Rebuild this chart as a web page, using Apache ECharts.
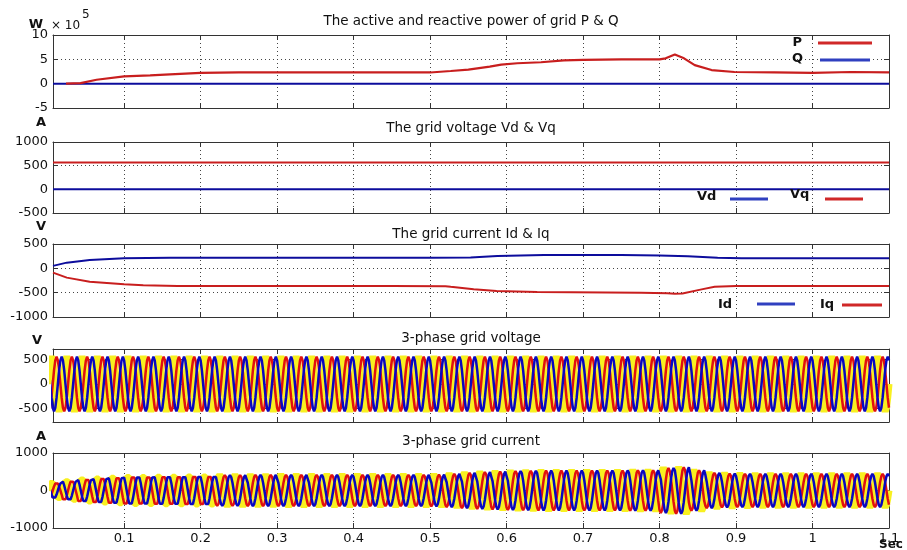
<!DOCTYPE html>
<html><head><meta charset="utf-8">
<script src="https://cdn.jsdelivr.net/npm/echarts@6/dist/echarts.min.js"></script>
<style>html,body{margin:0;padding:0;background:#fff}#c{width:907px;height:550px}</style>
</head><body><div id="c"></div><script>
// ---------- data ----------
const xTicks = [0.1, 0.2, 0.3, 0.4, 0.5, 0.6, 0.7, 0.8, 0.9, 1, 1.1];
const xTickLabels = ['0.1', '0.2', '0.3', '0.4', '0.5', '0.6', '0.7', '0.8', '0.9', '1', '1.1'];
const xMin = 0.007, xMax = 1.1;

// P in units of 10^5 W
const pTime  = [0.024, 0.043, 0.064, 0.1, 0.134, 0.16, 0.2, 0.25, 0.33, 0.4, 0.45, 0.5, 0.527, 0.55, 0.578, 0.593, 0.614, 0.645, 0.675, 0.7, 0.75, 0.8, 0.808, 0.82, 0.832, 0.846, 0.868, 0.898, 0.95, 1.0, 1.05, 1.1];
const pValue = [0, 0.1, 0.8, 1.5, 1.7, 1.9, 2.2, 2.3, 2.35, 2.3, 2.3, 2.3, 2.6, 2.9, 3.5, 3.9, 4.2, 4.4, 4.8, 4.9, 5.0, 5.0, 5.2, 6.0, 5.2, 3.8, 2.8, 2.4, 2.3, 2.2, 2.4, 2.3];
const qTime  = [0.007, 1.1];
const qValue = [0, 0];

const vdTime  = [0.007, 1.1];
const vdValue = [0, 0];
const vqTime  = [0.007, 1.1];
const vqValue = [565, 565];

const idTime  = [0.007, 0.025, 0.055, 0.1, 0.16, 0.3, 0.5, 0.553, 0.588, 0.649, 0.75, 0.8, 0.837, 0.876, 0.907, 1.0, 1.1];
const idValue = [50, 117, 171, 206, 220, 218, 220, 222, 254, 272, 272, 262, 247, 220, 206, 205, 205];
const iqTime  = [0.007, 0.025, 0.055, 0.1, 0.125, 0.17, 0.45, 0.52, 0.527, 0.557, 0.587, 0.64, 0.776, 0.81, 0.82, 0.83, 0.855, 0.872, 0.9, 1.0, 1.1];
const iqValue = [-88, -191, -274, -329, -350, -364, -364, -366, -380, -432, -466, -486, -500, -510, -520, -515, -432, -380, -364, -364, -364];

// 3-phase waveforms: 50 Hz, one normalized cycle (12 samples) and per-cycle peak amplitude
const gridFreq = 50;
const waveShape = [0, 0.5, 0.87, 1, 0.87, 0.5, 0, -0.5, -0.87, -1, -0.87, -0.5];
const voltageAmp = [560,560,560,560,560,560,560,560,560,560,560,560,560,560,560,560,560,560,560,560,560,560,560,560,560,560,560,560,560,560,560,560,560,560,560,560,560,560,560,560,560,560,560,560,560,560,560,560,560,560,560,560,560,560,560];
const currentAmp = [215,270,320,350,375,395,400,405,405,410,410,412,412,413,413,414,414,415,415,415,415,415,415,415,415,420,440,470,490,505,520,525,530,530,530,535,535,535,540,540,600,620,540,470,450,445,440,440,440,440,440,440,440,440,440];

// ---------- helpers ----------
function pairs(t, v) { return t.map((x, i) => [x, v[i]]); }
function phase(amp, shift) {
  const n = waveShape.length, pts = [];
  for (let k = 0; k < amp.length; k++) {
    for (let j = 0; j < n; j++) {
      pts.push([(k * n + j) / (n * gridFreq), amp[k] * waveShape[(j + shift) % n]]);
    }
  }
  pts.push([amp.length / gridFreq, amp[amp.length - 1] * waveShape[shift % n]]);
  return pts;
}

const FONT = 'DejaVu Sans';
const AX = '#333';
const grids = [
  { left: 53, width: 836, top: 35, height: 73 },
  { left: 53, width: 836, top: 142, height: 71 },
  { left: 53, width: 836, top: 244, height: 73 },
  { left: 53, width: 836, top: 349, height: 73 },
  { left: 53, width: 836, top: 453, height: 75 }
];
const yCfg = [
  { min: -5, max: 10, ticks: [-5, 0, 5, 10] },
  { min: -500, max: 1000, ticks: [-500, 0, 500, 1000] },
  { min: -1000, max: 500, ticks: [-1000, -500, 0, 500] },
  { min: -780, max: 720, ticks: [-500, 0, 500] },
  { min: -1000, max: 1000, ticks: [-1000, 0, 1000] }
];
const dotted = { show: true, lineStyle: { color: '#444', width: 1, type: [1, 3] } };

const xAxes = [], yAxes = [];
for (let g = 0; g < 5; g++) {
  xAxes.push({
    type: 'value', gridIndex: g, min: xMin, max: xMax, position: 'bottom',
    axisLine: { show: true, onZero: false, lineStyle: { color: AX, width: 1 } },
    axisTick: { show: true, inside: true, length: 5, customValues: xTicks, lineStyle: { color: AX } },
    axisLabel: g === 4 ? {
      show: true, customValues: xTicks, color: '#111', fontFamily: FONT, fontSize: 13, margin: 4,
      formatter: v => xTickLabels[xTicks.findIndex(t => Math.abs(t - v) < 1e-6)] || ''
    } : { show: false },
    splitLine: dotted
  });
}
for (let g = 0; g < 5; g++) {
  xAxes.push({
    type: 'value', gridIndex: g, min: xMin, max: xMax, position: 'top',
    axisLine: { show: true, onZero: false, lineStyle: { color: AX, width: 1 } },
    axisTick: { show: true, inside: true, length: 5, customValues: xTicks, lineStyle: { color: AX } },
    axisLabel: { show: false }, splitLine: { show: false }
  });
}
for (let g = 0; g < 5; g++) {
  const c = yCfg[g];
  yAxes.push({
    type: 'value', gridIndex: g, min: c.min, max: c.max, position: 'left',
    axisLine: { show: true, onZero: false, lineStyle: { color: AX, width: 1 } },
    axisTick: { show: true, inside: true, length: 5, customValues: c.ticks, lineStyle: { color: AX } },
    axisLabel: { show: true, customValues: c.ticks, color: '#111', fontFamily: FONT, fontSize: 13, margin: 5, formatter: v => String(v) },
    splitLine: dotted
  });
}
for (let g = 0; g < 5; g++) {
  const c = yCfg[g];
  yAxes.push({
    type: 'value', gridIndex: g, min: c.min, max: c.max, position: 'right',
    axisLine: { show: true, onZero: false, lineStyle: { color: AX, width: 1 } },
    axisTick: { show: true, inside: true, length: 5, customValues: c.ticks, lineStyle: { color: AX } },
    axisLabel: { show: false }, splitLine: { show: false }
  });
}

function line(g, data, color, width, name) {
  return {
    type: 'line', name, xAxisIndex: g, yAxisIndex: g, data, symbol: 'none', silent: true,
    lineStyle: { color, width }
  };
}
const RED = '#c81e1e', BLUE = '#0c0c9c', YEL = '#f8f020', RED3 = '#e01010', BLUE3 = '#0808c0';

const series = [
  line(0, pairs(qTime, qValue), BLUE, 2, 'Q'),
  line(0, pairs(pTime, pValue), RED, 2.2, 'P'),
  line(1, pairs(vqTime, vqValue), RED, 2, 'Vq'),
  line(1, pairs(vdTime, vdValue), BLUE, 2, 'Vd'),
  line(2, pairs(idTime, idValue), BLUE, 2, 'Id'),
  line(2, pairs(iqTime, iqValue), RED, 2, 'Iq'),
  line(3, phase(voltageAmp, 0), YEL, 7, 'Va'),
  line(3, phase(voltageAmp, 8), RED3, 2.5, 'Vb'),
  line(3, phase(voltageAmp, 4), BLUE3, 2.5, 'Vc'),
  line(4, phase(currentAmp, 0), YEL, 7, 'Ia'),
  line(4, phase(currentAmp, 8), RED3, 2.5, 'Ib'),
  line(4, phase(currentAmp, 4), BLUE3, 2.5, 'Ic')
];

function txt(x, y, text, opts) {
  return { type: 'text', x, y, silent: true, z: 10, style: Object.assign({ text, fontFamily: FONT, fontSize: 13, fill: '#111', textAlign: 'left', textVerticalAlign: 'middle' }, opts || {}) };
}
function seg(x1, x2, y, color) {
  return { type: 'line', silent: true, z: 10, shape: { x1, y1: y, x2, y2: y }, style: { stroke: color, lineWidth: 3 } };
}
const titles = ['The active and reactive power of grid P & Q', 'The grid voltage Vd & Vq', 'The grid current Id & Iq', '3-phase grid voltage', '3-phase grid current'];
const titleY = [21, 128, 234, 338, 441];
const graphic = [];
titles.forEach((t, i) => graphic.push(txt(471, titleY[i], t, { textAlign: 'center', fontSize: 13.5 })));
graphic.push(txt(36, 25, 'W', { textAlign: 'center', fontWeight: 'bold', fontSize: 13 }));
graphic.push(txt(51, 26, '× 10', { fontSize: 12 }));
graphic.push(txt(82, 15, '5', { fontSize: 12 }));
graphic.push(txt(41, 123, 'A', { textAlign: 'center', fontWeight: 'bold' }));
graphic.push(txt(41, 227, 'V', { textAlign: 'center', fontWeight: 'bold' }));
graphic.push(txt(37, 341, 'V', { textAlign: 'center', fontWeight: 'bold' }));
graphic.push(txt(41, 437, 'A', { textAlign: 'center', fontWeight: 'bold' }));
graphic.push(txt(891, 545, 'Sec', { textAlign: 'center', fontWeight: 'bold', fontSize: 12 }));
// legends
graphic.push(txt(802, 43, 'P', { textAlign: 'right', fontWeight: 'bold' }));
graphic.push(seg(818, 872, 43, '#d02828'));
graphic.push(txt(803, 59, 'Q', { textAlign: 'right', fontWeight: 'bold' }));
graphic.push(seg(820, 870, 60, '#3040c0'));
graphic.push(txt(697, 197, 'Vd', { fontWeight: 'bold' }));
graphic.push(seg(730, 768, 199, '#3040c0'));
graphic.push(txt(790, 195, 'Vq', { fontWeight: 'bold' }));
graphic.push(seg(825, 863, 199, '#d02828'));
graphic.push(txt(718, 305, 'Id', { fontWeight: 'bold' }));
graphic.push(seg(757, 795, 304, '#3040c0'));
graphic.push(txt(820, 305, 'Iq', { fontWeight: 'bold' }));
graphic.push(seg(842, 882, 305, '#d02828'));

const chart = echarts.init(document.getElementById('c'), null, { renderer: 'canvas' });
chart.setOption({
  animation: false,
  backgroundColor: '#fff',
  grid: grids,
  xAxis: xAxes,
  yAxis: yAxes,
  series,
  graphic
});
</script></body></html>
